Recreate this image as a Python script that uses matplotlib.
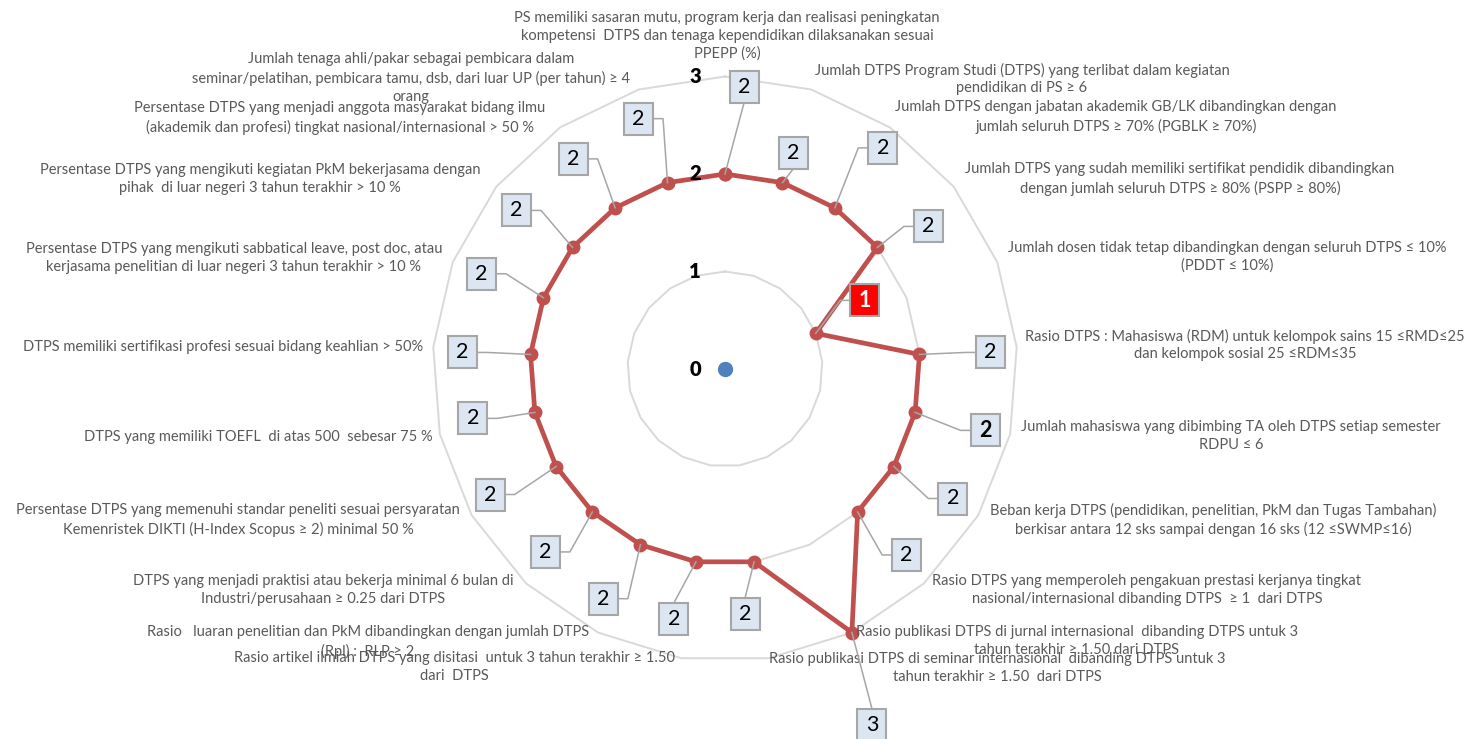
import numpy as np
import matplotlib
matplotlib.use("Agg")
import matplotlib.pyplot as plt
from matplotlib.patches import Rectangle
from matplotlib.lines import Line2D

plt.rcParams['font.family'] = ['Lato', 'DejaVu Sans']

# ---- data ----
categories = [
    "PS memiliki sasaran mutu, program kerja dan realisasi peningkatan\nkompetensi  DTPS dan tenaga kependidikan dilaksanakan sesuai\nPPEPP (%)",
    "Jumlah DTPS Program Studi (DTPS) yang terlibat dalam kegiatan\npendidikan di PS ≥ 6",
    "Jumlah DTPS dengan jabatan akademik GB/LK dibandingkan dengan\njumlah seluruh DTPS ≥ 70% (PGBLK ≥ 70%)",
    "Jumlah DTPS yang sudah memiliki sertifikat pendidik dibandingkan\ndengan jumlah seluruh DTPS ≥ 80% (PSPP ≥ 80%)",
    "Jumlah dosen tidak tetap dibandingkan dengan seluruh DTPS ≤ 10%\n(PDDT ≤ 10%)",
    "Rasio DTPS : Mahasiswa (RDM) untuk kelompok sains 15 ≤RMD≤25\ndan kelompok sosial 25 ≤RDM≤35",
    "Jumlah mahasiswa yang dibimbing TA oleh DTPS setiap semester\nRDPU ≤ 6",
    "Beban kerja DTPS (pendidikan, penelitian, PkM dan Tugas Tambahan)\nberkisar antara 12 sks sampai dengan 16 sks (12 ≤SWMP≤16)",
    "Rasio DTPS yang memperoleh pengakuan prestasi kerjanya tingkat\nnasional/internasional dibanding DTPS  ≥ 1  dari DTPS",
    "Rasio publikasi DTPS di jurnal internasional  dibanding DTPS untuk 3\ntahun terakhir ≥ 1.50 dari DTPS",
    "Rasio publikasi DTPS di seminar internasional  dibanding DTPS untuk 3\ntahun terakhir ≥ 1.50  dari DTPS",
    "Rasio artikel ilmiah DTPS yang disitasi  untuk 3 tahun terakhir ≥ 1.50\ndari  DTPS",
    "Rasio   luaran penelitian dan PkM dibandingkan dengan jumlah DTPS\n(Rpl) :  RLP ≥ 2",
    "DTPS yang menjadi praktisi atau bekerja minimal 6 bulan di\nIndustri/perusahaan ≥ 0.25 dari DTPS",
    "Persentase DTPS yang memenuhi standar peneliti sesuai persyaratan\nKemenristek DIKTI (H-Index Scopus ≥ 2) minimal 50 %",
    "DTPS yang memiliki TOEFL  di atas 500  sebesar 75 %",
    "DTPS memiliki sertifikasi profesi sesuai bidang keahlian > 50%",
    "Persentase DTPS yang mengikuti sabbatical leave, post doc, atau\nkerjasama penelitian di luar negeri 3 tahun terakhir > 10 %",
    "Persentase DTPS yang mengikuti kegiatan PkM bekerjasama dengan\npihak  di luar negeri 3 tahun terakhir > 10 %",
    "Persentase DTPS yang menjadi anggota masyarakat bidang ilmu\n(akademik dan profesi) tingkat nasional/internasional > 50 %",
    "Jumlah tenaga ahli/pakar sebagai pembicara dalam\nseminar/pelatihan, pembicara tamu, dsb, dari luar UP (per tahun) ≥ 4\norang",
]
scores = [2, 2, 2, 2, 1, 2, 2, 2, 2, 3, 2, 2, 2, 2, 2, 2, 2, 2, 2, 2, 2]
baseline = [0]          # blue series, only one visible point at the centre
scale_ticks = [0, 1, 2, 3]

# ---- layout (pixels in the 1470x739 image) ----
W, H = 1470, 739
cx, cy, R = 725, 369, 292.5
# category label centres (x, y from top)
label_pos = [(727, 36), (1022, 79), (1116, 117), (1180, 179), (1227, 257),
             (1245, 345), (1231, 436), (1213, 520), (1147, 590), (1077, 641),
             (997, 668), (454, 667), (368, 642), (323, 590), (238, 520),
             (258, 437), (223, 347), (234, 258), (260, 179), (340, 118),
             (411, 78)]
# data label box offsets from each point (dx, dy), y downward
box_off = [(19, -87), (11, -30), (48, -60), (51, -21), (49, -33), (71, -2),
           (70, 18), (59, 32), (49, 43), (20, 92), (-9, 52), (-22, 57),
           (-37, 54), (-47, 40), (-66, 28), (-62, 6), (-68, -2), (-62, -24),
           (-56, -37), (-42, -49), (-29, -64)]
bold_labels = {6}
red_label = {4}

line_color = '#c0504d'
grid_color = '#d9d9d9'
text_color = '#595959'

fig = plt.figure(figsize=(W / 100, H / 100), dpi=100)
ax = fig.add_axes([(cx - R) / W, (H - cy - R) / H, 2 * R / W, 2 * R / H],
                  projection='polar')
ax.set_theta_zero_location('N')
ax.set_theta_direction(-1)
ax.set_ylim(0, 3)
ax.axis('off')

n = len(scores)
theta = np.arange(n) * 2 * np.pi / n
theta_c = np.append(theta, theta[0])

# polygon gridlines
for r in scale_ticks[1:]:
    ax.plot(theta_c, [r] * (n + 1), color=grid_color, lw=1.4, zorder=1,
            clip_on=False)

# series
ax.plot(theta_c, scores + scores[:1], color=line_color, lw=3.4,
        marker='o', ms=9, zorder=3, clip_on=False)
ax.plot([0] * len(baseline), baseline, 'o', color='#4f81bd', ms=10,
        zorder=4, clip_on=False)

# scale labels
for t in scale_ticks:
    ax.annotate(str(t), xy=(0, t), xytext=(-30, 0),
                textcoords='offset pixels', ha='center', va='center',
                fontsize=14.5, fontweight='heavy', color='black',
                annotation_clip=False)

# category labels
for lab, (x, y) in zip(categories, label_pos):
    fig.text(x / W, 1 - y / H, lab, ha='center', va='center',
             multialignment='center', fontsize=10.5, color=text_color,
             linespacing=1.35)

# data labels with leader lines
fig.canvas.draw()
to_fig = fig.transFigure.inverted()
bw, bh = 29, 32
for i, (t, v) in enumerate(zip(theta, scores)):
    px, py = ax.transData.transform((t, v))
    dx, dy = box_off[i]
    bx, by = px + dx, py - dy
    if abs(dx) >= 25:
        s = np.sign(dx)
        ex = bx - s * bw / 2
        xs, ys = [px, ex - s * 10, ex], [py, by, by]
    else:
        s = np.sign(-dy)
        xs, ys = [px, bx], [py, by - s * bh / 2]
    pts = to_fig.transform(np.column_stack([xs, ys]))
    fig.add_artist(Line2D(pts[:, 0], pts[:, 1], color='#a6a6a6', lw=1.1,
                          transform=fig.transFigure, zorder=5))
    x0, y0 = to_fig.transform((bx - bw / 2, by - bh / 2))
    x1, y1 = to_fig.transform((bx + bw / 2, by + bh / 2))
    red = i in red_label
    fig.add_artist(Rectangle((x0, y0), x1 - x0, y1 - y0,
                             transform=fig.transFigure,
                             facecolor='#ff0000' if red else '#dce6f2',
                             edgecolor='#a6a6a6', lw=1.5, zorder=6))
    fx, fy = to_fig.transform((bx, by))
    fig.text(fx, fy, str(v), ha='center', va='center', fontsize=15.5,
             color='white' if red else 'black',
             fontweight='bold' if (red or i in bold_labels) else 'normal',
             zorder=7)

fig.savefig('out.png', dpi=100)
